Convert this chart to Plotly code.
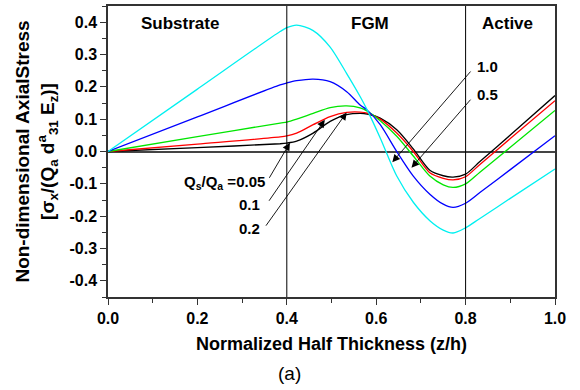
import plotly.graph_objects as go

# Normalized half thickness sample points
z = [0.0, 0.2, 0.385, 0.4, 0.422, 0.459, 0.497, 0.534, 0.564, 0.58, 0.609,
     0.646, 0.683, 0.72, 0.75, 0.772, 0.80, 0.832, 0.9, 1.0]

# Non-dimensional axial stress for each Qs/Qa ratio
s_005 = [0.0, 0.012, 0.024, 0.026, 0.032, 0.057, 0.093, 0.114, 0.118, 0.116, 0.103,
         0.067, 0.008, -0.058, -0.075, -0.079, -0.070, -0.031, 0.051, 0.173]
s_01 = [0.0, 0.023, 0.045, 0.048, 0.057, 0.083, 0.108, 0.121, 0.122, 0.119, 0.100,
        0.057, 0.0, -0.066, -0.083, -0.088, -0.078, -0.040, 0.040, 0.157]
s_02 = [0.0, 0.046, 0.088, 0.091, 0.100, 0.118, 0.136, 0.141, 0.135, 0.125, 0.095,
        0.047, -0.014, -0.076, -0.103, -0.111, -0.100, -0.064, 0.013, 0.127]
s_05 = [0.0, 0.107, 0.206, 0.212, 0.219, 0.224, 0.216, 0.185, 0.144, 0.128, 0.083,
        0.0, -0.076, -0.132, -0.163, -0.173, -0.160, -0.127, -0.056, 0.049]
s_10 = [0.0, 0.193, 0.371, 0.383, 0.391, 0.374, 0.323, 0.241, 0.170, 0.128, 0.042,
        -0.076, -0.157, -0.214, -0.243, -0.252, -0.236, -0.207, -0.145, -0.054]

series = [("0.05", s_005, "#000000"), ("0.1", s_01, "#ff0000"), ("0.2", s_02, "#00e600"),
          ("0.5", s_05, "#0000ff"), ("1.0", s_10, "#00f0f0")]

layer_bounds = [0.4, 0.8]
layer_names = ["Substrate", "FGM", "Active"]
layer_label_x = [0.161, 0.585, 0.894]

x_ticks = [0.0, 0.2, 0.4, 0.6, 0.8, 1.0]
y_ticks = [0.4, 0.3, 0.2, 0.1, 0.0, -0.1, -0.2, -0.3, -0.4]

FONT = "Liberation Sans, Arial, Helvetica, sans-serif"

fig = go.Figure()
for name, ys, col in series:
    fig.add_trace(go.Scatter(x=z, y=ys, mode="lines", name=name,
                             line=dict(color=col, width=1.3, shape="spline", smoothing=0.8),
                             showlegend=False))

shapes = []
for b in layer_bounds:
    shapes.append(dict(type="line", xref="x", yref="y", x0=b, x1=b, y0=-0.45, y1=0.45,
                       line=dict(color="black", width=1)))

annotations = []
for nm, xx in zip(layer_names, layer_label_x):
    annotations.append(dict(x=xx, y=0.395, xref="x", yref="y", text=nm, showarrow=False,
                            font=dict(size=17, family=FONT, color="black", weight="bold")))

# labels for curves
label_font = dict(size=15, family=FONT, color="black", weight="bold")
annotations += [
    dict(x=0.355, y=-0.096, text="Q<sub>s</sub>/Q<sub>a</sub> =0.05", xanchor="right",
         showarrow=False, font=label_font),
    dict(x=0.345, y=-0.163, text="0.1", xanchor="right", showarrow=False, font=label_font),
    dict(x=0.345, y=-0.237, text="0.2", xanchor="right", showarrow=False, font=label_font),
    dict(x=0.849, y=0.262, text="1.0", showarrow=False, font=label_font),
    dict(x=0.849, y=0.177, text="0.5", showarrow=False, font=label_font),
]
# arrows (head, tail)
arrows = [((0.407, 0.027), (0.359, -0.086)),
          ((0.485, 0.098), (0.358, -0.157)),
          ((0.534, 0.121), (0.351, -0.234)),
          ((0.636, -0.033), (0.814, 0.252)),
          ((0.679, -0.050), (0.814, 0.165))]
for (hx, hy), (tx, ty) in arrows:
    annotations.append(dict(x=hx, y=hy, ax=tx, ay=ty, xref="x", yref="y", axref="x", ayref="y",
                            text="", showarrow=True, arrowhead=2, arrowsize=1.7, arrowwidth=0.9,
                            arrowcolor="black", standoff=0))

annotations.append(dict(x=0.407, y=0.0, xref="paper", yref="paper", yshift=-76,
                        yanchor="middle", text="(a)", showarrow=False,
                        font=dict(size=19, family=FONT, color="black")))

fig.update_layout(
    width=580, height=390,
    margin=dict(l=108, r=25, t=6, b=93, autoexpand=False),
    paper_bgcolor="white", plot_bgcolor="white",
    font=dict(family=FONT, color="black"),
    shapes=shapes, annotations=annotations,
)
fig.update_xaxes(range=[0, 1], tickvals=x_ticks, ticktext=[f"{v:.1f}" for v in x_ticks],
                 ticks="outside", ticklen=6, tickwidth=1.3, tickcolor="#333",
                 minor=dict(dtick=0.1, ticks="outside", ticklen=4, tickwidth=1.2, tickcolor="#333"),
                 showline=True, linecolor="#333", linewidth=1.5, mirror=True,
                 showgrid=False, zeroline=False,
                 tickfont=dict(size=16, family=FONT, weight="bold"),
                 title=dict(text="Normalized Half Thickness (z/h)", standoff=11,
                            font=dict(size=18, family=FONT, weight="bold")))
fig.update_yaxes(range=[-0.45, 0.45], tickvals=y_ticks, ticktext=[f"{v:.1f}" for v in y_ticks],
                 ticks="outside", ticklen=6, tickwidth=1.3, tickcolor="#333",
                 minor=dict(dtick=0.05, tick0=0, ticks="outside", ticklen=4, tickwidth=1.2, tickcolor="#333"),
                 showline=True, linecolor="#333", linewidth=1.5, mirror=True,
                 showgrid=False, zeroline=True, zerolinecolor="#444", zerolinewidth=1.5,
                 tickfont=dict(size=16, family=FONT, weight="bold"),
                 title=dict(text="Non-dimensional AxialStress<br>[σ<sub>x</sub>/(Q<sub>a</sub> d<sup>a</sup><sub>31</sub> E<sub>z</sub>)]",
                            standoff=10, font=dict(size=19, family=FONT, weight="bold")))

fig.write_html("out.html", config={"displayModeBar": False},
               post_script="document.body.style.margin='0';document.body.style.overflow='hidden';")
